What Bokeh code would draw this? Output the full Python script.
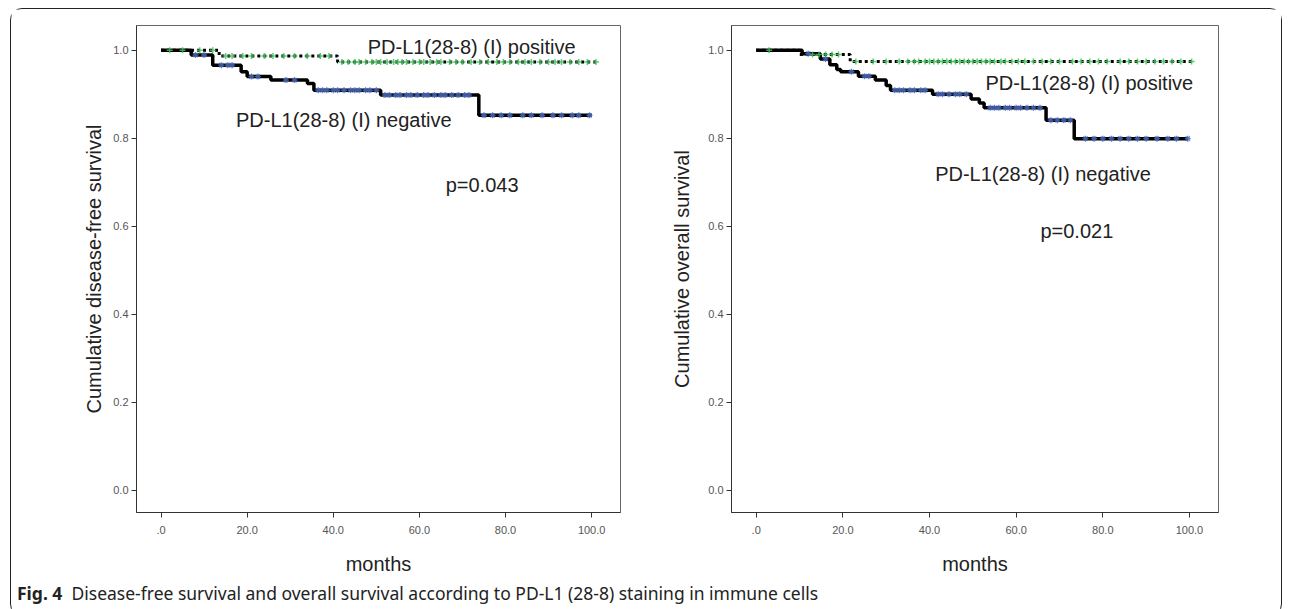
from bokeh.plotting import figure
from bokeh.models import Range1d, FixedTicker, NumeralTickFormatter, Label, Div
from bokeh.layouts import row, column
from bokeh.embed import file_html
from bokeh.resources import INLINE
import numpy as np

# ---------------- data ----------------
# Disease-free survival
dfs_neg_t = [0, 7, 12, 18.6, 20, 25.5, 34, 35.5, 51, 73.8]
dfs_neg_s = [1.0, 0.989, 0.966, 0.951, 0.94, 0.932, 0.924, 0.909, 0.898, 0.852]
dfs_neg_end = 100
dfs_neg_cens = [8, 10, 14, 15.5, 16.5, 21, 22.5, 29, 31, 36.5, 37.5, 38.5, 40, 41, 42.5,
                44, 45, 46, 47.5, 48.5, 50, 52, 53, 54.5, 55.5, 57, 58, 59.5, 61, 62,
                63.5, 65, 66, 67.5, 69, 70.5, 71.5, 75, 77, 79, 81, 84, 86, 88.5, 91,
                93, 95.5, 97, 99.5]

dfs_pos_t = [0, 13.5, 41]
dfs_pos_s = [1.0, 0.987, 0.973]
dfs_pos_end = 101
dfs_pos_cens = [2, 5, 9, 12, 15, 16.5, 19, 21, 24, 26, 28.5, 31, 34, 37, 39,
                42, 43.5, 45, 46, 47.5, 49, 50, 51, 52.5, 54, 55, 56, 57, 58.5,
                60, 61, 62.5, 64, 65, 67, 68.5, 70, 72, 74, 76, 78, 79.5, 81, 83,
                84.5, 86, 88, 90, 91.5, 93, 95, 97, 99, 101]

# Overall survival
os_neg_t = [0, 10.6, 14.8, 17, 18.6, 19.5, 23.6, 27.5, 30, 31, 40.7, 49.6, 51.5, 52.6, 66.9, 73.4]
os_neg_s = [1.0, 0.992, 0.98, 0.967, 0.956, 0.951, 0.941, 0.932, 0.92, 0.909,
            0.9, 0.889, 0.88, 0.869, 0.841, 0.799]
os_neg_end = 99.6
os_neg_cens = [12, 16, 22, 25, 26, 32, 33, 34, 35.5, 36.5, 38, 39, 42, 43, 44.5,
               46, 47, 48.5, 54, 55, 56, 57.5, 58.5, 60, 61, 62.5, 64, 65.5, 68,
               69.5, 71, 72.5, 76, 78, 80, 82, 84, 86, 88, 90, 92.5, 95, 97, 99.6]

os_pos_t = [0, 10, 21.7]
os_pos_s = [1.0, 0.99, 0.974]
os_pos_end = 100.5
os_pos_cens = [3, 13, 14.5, 16, 17.5, 19, 23, 27, 30, 33, 35, 36.5, 37.5, 39, 40,
               41, 42, 43, 44, 45, 46, 47, 48, 49, 50, 51, 52, 53, 54, 55, 56.5,
               57.5, 59, 60.5, 62, 64, 66, 68, 70, 73, 75, 77, 79, 81, 84, 86, 88,
               90, 92, 94, 96, 98, 100.5]

x_ticks = [0, 20, 40, 60, 80, 100]
x_tick_labels = [".0", "20.0", "40.0", "60.0", "80.0", "100.0"]
y_ticks = [0.0, 0.2, 0.4, 0.6, 0.8, 1.0]

FONT = "Liberation Sans"
NEG_MARK = "#4a68b8"
POS_MARK = "#3fc25a"


def km_xy(t, s, end):
    return list(t) + [end], list(s) + [s[-1]]


def cens_y(t, s, ct):
    idx = np.searchsorted(np.array(t), np.array(ct), side="right") - 1
    return [s[i] for i in idx]


def make_plot(width, left, right, ylabel, ystandoff, neg, pos, labels):
    p = figure(width=width, height=569,
               x_range=Range1d(-5.7, 106.7), y_range=Range1d(-0.05, 1.056),
               output_backend="svg", toolbar_location=None,
               min_border_left=left, min_border_right=right,
               min_border_top=16, min_border_bottom=66)
    p.grid.visible = False
    p.outline_line_color = "#666666"
    p.outline_line_width = 1
    p.background_fill_color = "white"
    p.border_fill_color = "white"

    for ax in (p.xaxis[0], p.yaxis[0]):
        ax.axis_line_color = "#333333"
        ax.major_tick_line_color = "#333333"
        ax.major_tick_out = 5
        ax.major_tick_in = 0
        ax.minor_tick_line_color = None
        ax.major_label_text_font = FONT
        ax.major_label_text_font_size = "11px"
        ax.major_label_text_color = "#555555"
        ax.axis_label_text_font = FONT
        ax.axis_label_text_font_size = "20px"
        ax.axis_label_text_font_style = "normal"
        ax.axis_label_text_color = "#222222"

    p.xaxis.ticker = FixedTicker(ticks=x_ticks)
    p.xaxis.major_label_overrides = dict(zip(x_ticks, x_tick_labels))
    p.xaxis.major_label_standoff = 8
    p.xaxis.axis_label = "months"
    p.xaxis.axis_label_standoff = 16

    p.yaxis.ticker = FixedTicker(ticks=y_ticks)
    p.yaxis.formatter = NumeralTickFormatter(format="0.0")
    p.yaxis.major_label_standoff = 3
    p.yaxis.axis_label = ylabel
    p.yaxis.axis_label_standoff = ystandoff

    nt, ns, nend, nc = neg
    pt, ps, pend, pc = pos
    x, y = km_xy(pt, ps, pend)
    p.step(x, y, mode="after", line_color="black", line_width=3, line_dash="3 3")
    x, y = km_xy(nt, ns, nend)
    p.step(x, y, mode="after", line_color="black", line_width=3.5)
    p.scatter(pc, cens_y(pt, ps, pc), marker="cross", size=6,
              line_color=POS_MARK, line_width=1.5, line_alpha=0.85)
    p.scatter(nc, cens_y(nt, ns, nc), marker="asterisk", size=6,
              line_color=NEG_MARK, line_width=1.3, line_alpha=0.85)

    for (lx, ly, txt) in labels:
        p.add_layout(Label(x=lx, y=ly, text=txt, text_font=FONT,
                           text_font_size="20px", text_color="#222222",
                           text_baseline="middle", text_align="left"))
    return p


p1 = make_plot(629, 125, 20, "Cumulative disease-free survival", 5,
               (dfs_neg_t, dfs_neg_s, dfs_neg_end, dfs_neg_cens),
               (dfs_pos_t, dfs_pos_s, dfs_pos_end, dfs_pos_cens),
               [(48.0, 1.007, "PD-L1(28-8) (I) positive"),
                (17.4, 0.841, "PD-L1(28-8) (I) negative"),
                (66.1, 0.693, "p=0.043")])

p2 = make_plot(641, 91, 63, "Cumulative overall survival", 12,
               (os_neg_t, os_neg_s, os_neg_end, os_neg_cens),
               (os_pos_t, os_pos_s, os_pos_end, os_pos_cens),
               [(52.9, 0.925, "PD-L1(28-8) (I) positive"),
                (41.3, 0.719, "PD-L1(28-8) (I) negative"),
                (65.6, 0.589, "p=0.021")])

cap = Div(text='<span style="font-weight:bold">Fig. 4</span>&nbsp; Disease-free survival and overall survival according to PD-L1 (28-8) staining in immune cells',
          width=1260, height=27,
          styles={"font-family": "Noto Sans", "font-size": "17.5px", "color": "#222",
                  "padding-left": "1px", "line-height": "20px"})

layout = column(row(p1, p2), cap,
                styles={"border": "1px solid #222", "border-radius": "12px",
                        "background": "white", "margin-left": "10px",
                        "margin-top": "8px"})

open("out.html", "w").write(file_html(layout, INLINE))
